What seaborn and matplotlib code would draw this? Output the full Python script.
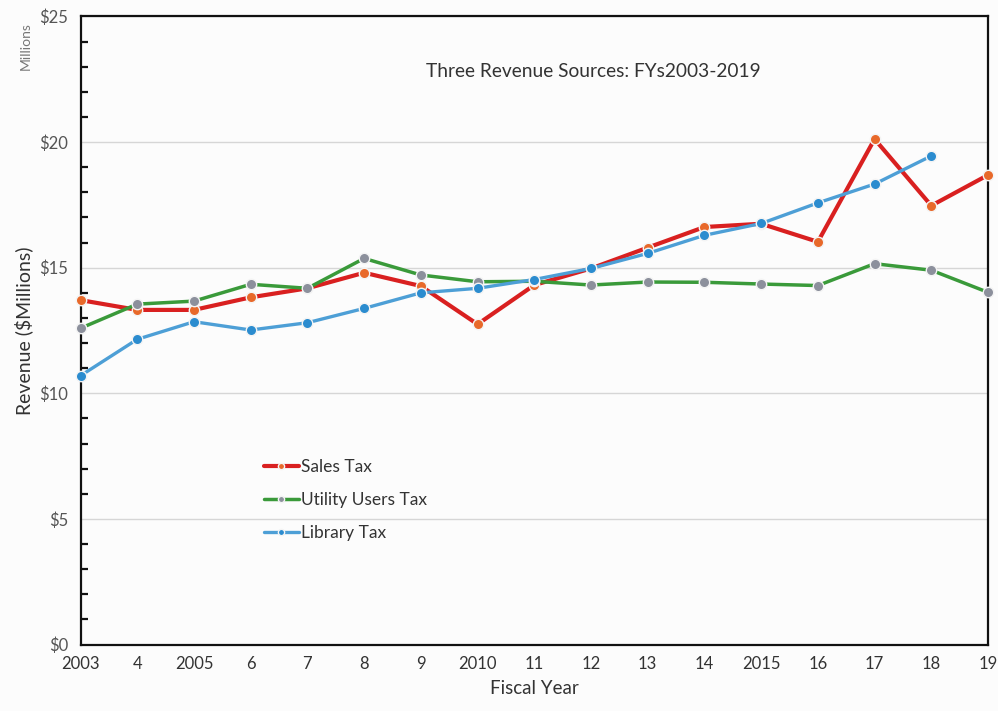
import numpy as np
import pandas as pd
import matplotlib
matplotlib.use("Agg")
import matplotlib.pyplot as plt
from matplotlib.ticker import MultipleLocator
import seaborn as sns

# Fiscal years and tick labels
years = list(range(2003, 2020))
year_labels = ["2003", "4", "2005", "6", "7", "8", "9", "2010", "11", "12",
               "13", "14", "2015", "16", "17", "18", "19"]

# Revenue in $ millions
sales_tax = [13.71, 13.32, 13.32, 13.82, 14.18, 14.80, 14.27, 12.75, 14.31,
             14.97, 15.80, 16.62, 16.75, 16.03, 20.12, 17.47, 18.69]
utility_users_tax = [12.59, 13.55, 13.67, 14.34, 14.18, 15.37, 14.71, 14.44, 14.46,
                     14.31, 14.43, 14.42, 14.35, 14.29, 15.16, 14.90, 14.02]
library_tax = [10.70, 12.15, 12.85, 12.52, 12.81, 13.38, 14.00, 14.18, 14.53,
               14.97, 15.57, 16.29, 16.76, 17.58, 18.33, 19.45, np.nan]

y_ticks = [0, 5, 10, 15, 20, 25]
y_tick_labels = ["$0", "$5", "$10", "$15", "$20", "$25"]

series_names = ["Sales Tax", "Utility Users Tax", "Library Tax"]

df = pd.DataFrame({
    "Fiscal Year": years * 3,
    "Revenue": sales_tax + utility_users_tax + library_tax,
    "Source": [n for n in series_names for _ in years],
})

line_colors = {"Sales Tax": "#d92020", "Utility Users Tax": "#3a9a3a", "Library Tax": "#4d9fd6"}
marker_colors = {"Sales Tax": "#e8692a", "Utility Users Tax": "#8c909c", "Library Tax": "#2b8ccf"}
line_widths = {"Sales Tax": 3.0, "Utility Users Tax": 2.5, "Library Tax": 2.4}

sns.set_theme(style="white")
plt.rcParams["font.family"] = ["Lato", "DejaVu Sans"]

fig = plt.figure(figsize=(9.98, 7.11), dpi=100)
fig.patch.set_facecolor("#fcfcfc")
ax = fig.add_axes([0.0807, 0.0935, 0.9093, 0.8833])
ax.set_facecolor("#fcfcfc")

for name in series_names:
    sub = df[df["Source"] == name].dropna()
    sns.lineplot(data=sub, x="Fiscal Year", y="Revenue", ax=ax,
                 color=line_colors[name], linewidth=line_widths[name], marker="o",
                 markersize=7.5, markerfacecolor=marker_colors[name],
                 markeredgecolor="#f4f4f4", markeredgewidth=1.0,
                 label=name, clip_on=False, zorder=3)

ax.set_xlim(2003, 2019)
ax.set_ylim(0, 25)
ax.set_xticks(years)
ax.set_xticklabels(year_labels)
ax.set_yticks(y_ticks)
ax.set_yticklabels(y_tick_labels)
ax.yaxis.set_minor_locator(MultipleLocator(1))

ax.grid(axis="y", which="major", color="#d6d6d6", linewidth=1.0, zorder=0)
ax.grid(axis="x", visible=False)

for side in ["left", "right", "top", "bottom"]:
    ax.spines[side].set_visible(True)
    ax.spines[side].set_color("#111111")
    ax.spines[side].set_linewidth(1.6)

ax.tick_params(axis="x", which="major", direction="in", length=6, width=1.6,
               colors="#111111", labelcolor="#333333", labelsize=12, pad=8)
ax.tick_params(axis="y", which="major", direction="inout", length=10, width=1.6,
               colors="#111111", labelcolor="#555555", labelsize=12, pad=4)
ax.tick_params(axis="y", which="minor", direction="in", length=5, width=1.6,
               colors="#111111", left=True)

ax.set_xlabel("Fiscal Year", fontsize=13.5, color="#333333", labelpad=6)
ax.set_ylabel("Revenue ($Millions)", fontsize=14, color="#333333", labelpad=4)

ax.text(0.565, 0.913, "Three Revenue Sources: FYs2003-2019", transform=ax.transAxes,
        ha="center", va="center", fontsize=13.8, color="#333333")
fig.text(0.026, 0.935, "Millions", rotation=90, ha="center", va="center",
         fontsize=10, color="#777777")

ax.legend(loc="center left", bbox_to_anchor=(0.185, 0.23), frameon=False,
          fontsize=12.5, handlelength=2.0, handletextpad=0.1, labelspacing=1.0,
          markerscale=0.6, labelcolor="#333333")

fig.savefig("out.png", dpi=100, facecolor=fig.get_facecolor())
